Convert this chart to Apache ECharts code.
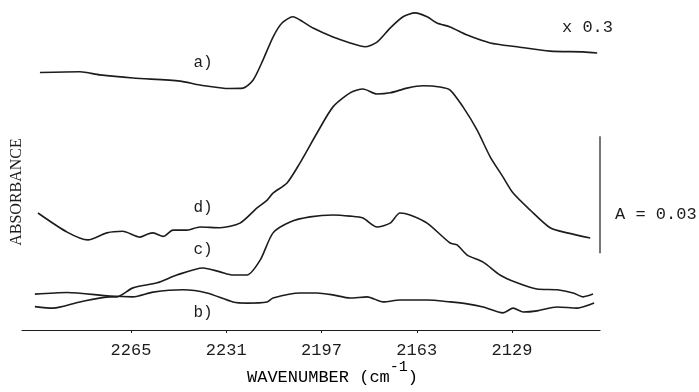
<!DOCTYPE html>
<html><head><meta charset="utf-8">
<script src="https://cdn.jsdelivr.net/npm/echarts@6/dist/echarts.min.js"></script>
<style>html,body{margin:0;padding:0;background:#fff}#c{width:699px;height:392px}</style>
</head><body><div id="c"></div>
<script>
// Wavenumber (cm-1) vs absorbance offset (mA, 1 mA = 0.001 A)
const tickValues = [2265, 2231, 2197, 2163, 2129];
const xMin = 2097.6, xMax = 2303.9;
const curveA = [[2297.5,66.0],[2283.2,66.2],[2276.1,65.4],[2264.3,64.6],[2247.5,63.8],[2240.4,62.8],[2229.7,61.9],[2225.0,62.0],[2221.4,64.1],[2217.9,69.2],[2214.3,75.1],[2211.1,78.7],[2207.2,80.3],[2203.6,79.0],[2200.0,77.4],[2192.9,75.1],[2186.8,73.6],[2181.5,72.6],[2177.2,73.8],[2172.5,77.4],[2167.9,80.3],[2163.6,81.3],[2159.3,80.3],[2155.8,78.7],[2151.1,77.7],[2145.0,75.6],[2136.8,73.6],[2127.2,72.6],[2115.4,71.5],[2103.6,71.3],[2098.6,71.0]];
const curveD = [[2298.2,30.0],[2287.8,25.1],[2280.4,23.1],[2273.6,24.9],[2268.0,25.3],[2261.8,23.8],[2259.0,24.6],[2257.1,24.9],[2253.5,24.0],[2250.0,25.6],[2245.0,25.6],[2240.4,26.4],[2233.2,26.2],[2226.1,27.4],[2220.0,31.3],[2216.4,33.3],[2214.3,35.1],[2209.3,37.7],[2204.7,42.8],[2198.6,50.5],[2192.9,57.2],[2186.8,60.8],[2182.2,61.8],[2177.2,60.5],[2172.5,60.8],[2166.5,62.0],[2160.8,62.6],[2154.7,62.3],[2151.1,61.5],[2146.5,57.2],[2141.5,51.3],[2136.8,44.4],[2132.2,39.2],[2128.6,35.1],[2122.6,30.8],[2115.4,26.2],[2109.3,24.9],[2101.1,23.6]];
const curveC = [[2299.3,6.0],[2292.8,5.6],[2283.2,7.2],[2272.5,8.5],[2270.0,8.5],[2264.3,10.8],[2255.7,12.1],[2248.6,14.1],[2239.3,15.9],[2233.2,14.9],[2228.6,14.1],[2223.6,14.1],[2218.9,17.9],[2214.3,24.9],[2208.2,27.7],[2201.1,29.0],[2192.9,29.5],[2186.8,29.2],[2182.2,28.7],[2177.2,26.4],[2172.5,27.4],[2169.0,30.0],[2165.4,29.5],[2159.3,27.4],[2151.1,22.3],[2148.6,21.8],[2145.0,19.2],[2139.3,17.4],[2133.3,14.1],[2127.2,12.1],[2120.1,10.5],[2112.9,10.3],[2107.2,9.5],[2103.6,8.5],[2100.1,9.2]];
const curveB = [[2299.3,9.2],[2287.8,9.6],[2272.5,8.7],[2264.3,8.5],[2257.1,9.7],[2246.4,10.3],[2237.9,9.5],[2228.6,7.2],[2223.6,6.9],[2216.4,7.2],[2214.3,8.2],[2204.7,9.5],[2198.6,9.5],[2192.9,9.0],[2186.8,8.2],[2180.7,8.5],[2175.0,7.2],[2169.0,7.7],[2159.3,7.7],[2151.1,7.2],[2145.0,6.7],[2139.3,5.9],[2132.2,4.4],[2128.6,5.6],[2125.0,4.6],[2120.1,4.9],[2112.9,5.9],[2105.8,5.6],[2099.7,6.9]];
const scaleBar = [[xMin,19.7],[xMin,49.7]];
const curveLabels = [['a)',2239.3,68.5],['d)',2239.3,31.3],['c)',2239.3,20.5],['b)',2239.3,4.4]];

const ink = '#1c1c1c';
const mono = 'Liberation Mono';
function curve(name, data, lbl){
  return {name, type:'line', data, showSymbol:false, smooth:0.25, silent:true,
    lineStyle:{color:ink, width:1.6},
    markPoint: lbl ? {symbolSize:0, silent:true, data:[{coord:[lbl[1],lbl[2]], value:lbl[0],
      label:{show:true, formatter:lbl[0], color:ink, fontFamily:mono, fontSize:16, position:'inside'}}]} : undefined};
}
const chart = echarts.init(document.getElementById('c'), null, {renderer:'canvas'});
chart.setOption({
  animation:false,
  backgroundColor:'#fff',
  grid:{left:22, right:99, top:0, bottom:62},
  xAxis:{type:'value', inverse:true, min:xMin, max:xMax,
    axisLine:{show:true, lineStyle:{color:ink, width:1.2}},
    axisTick:{show:true, length:3, customValues:tickValues, lineStyle:{color:ink}},
    axisLabel:{show:true, customValues:tickValues, margin:12, color:ink, fontFamily:mono, fontSize:17,
      formatter:(v)=>String(v)},
    splitLine:{show:false}},
  yAxis:{type:'value', min:0, max:84.6, show:false},
  series:[
    curve('a', curveA, curveLabels[0]),
    curve('d', curveD, curveLabels[1]),
    curve('c', curveC, curveLabels[2]),
    curve('b', curveB, curveLabels[3]),
    {name:'scale', type:'line', data:scaleBar, showSymbol:false, clip:false, silent:true,
     lineStyle:{color:ink, width:1.2}}
  ],
  graphic:[
    {type:'text', left:562, top:19, style:{text:'x 0.3', fill:ink, font:'17px "Liberation Mono"'}},
    {type:'text', left:615, top:206, style:{text:'A = 0.03', fill:ink, font:'17px "Liberation Mono"'}},
    {type:'text', left:247, top:360, style:{
      text:'{m|WAVENUMBER (cm}{s|-1}{m|)}',
      rich:{m:{fontFamily:mono, fontSize:17, color:ink, lineHeight:26, verticalAlign:'bottom'},
            s:{fontFamily:mono, fontSize:15, color:ink, verticalAlign:'top', lineHeight:26}}}},
    {type:'text', x:17, y:192, rotation:Math.PI/2, style:{text:'ABSORBANCE', fill:ink,
      font:'16px "Liberation Serif"', align:'center', verticalAlign:'middle'}}
  ]
});
</script></body></html>
